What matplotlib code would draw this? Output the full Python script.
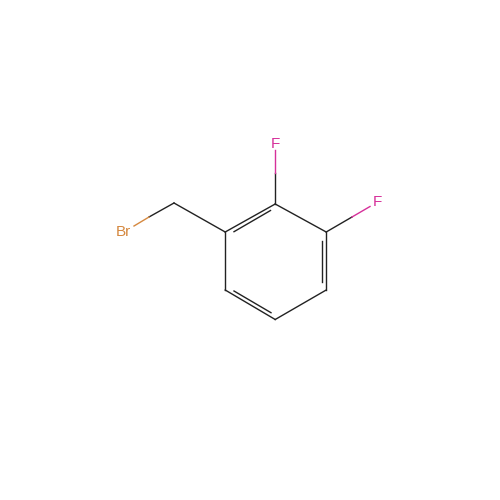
import matplotlib
matplotlib.use('Agg')
import matplotlib.pyplot as plt

# ring + CH2 atoms, pixel coords
atom_x = [275.2, 326.2, 326.2, 275.2, 225.2, 225.2, 174.0]
atom_y = [204.0, 232.0, 290.0, 319.5, 290.0, 232.0, 203.0]
bonds = [(0, 1), (1, 2), (2, 3), (3, 4), (4, 5), (5, 0), (5, 6)]

# inner lines of the double bonds
inner_x = [(234, 270.5), (322.2, 322.2), (234, 271)]
inner_y = [(231.7, 210.5), (240.7, 282), (291, 312.7)]

# hetero bonds: start atom, colour change point, end point
hetero_start = [6, 0, 1]
hetero_mid_x = [149, 275.2, 352]
hetero_mid_y = [217, 172.7, 217]
hetero_end_x = [134, 275.2, 370]
hetero_end_y = [226, 150, 206.5]

labels = ['Br', 'F', 'F']
label_x = [123, 275, 377]
label_y = [231.5, 143.5, 202.5]
label_colors = ['#d5883f', '#d6309a', '#d6309a']

BOND = '#222222'

fig = plt.figure(figsize=(5, 5), dpi=100)
ax = fig.add_axes([0, 0, 1, 1])
ax.set_xlim(0, 500)
ax.set_ylim(500, 0)
ax.axis('off')

for a, b in bonds:
    ax.plot([atom_x[a], atom_x[b]], [atom_y[a], atom_y[b]], color=BOND, lw=1.0)

for xs, ys in zip(inner_x, inner_y):
    ax.plot(xs, ys, color=BOND, lw=1.0)

for i in range(3):
    s = hetero_start[i]
    ax.plot([atom_x[s], hetero_mid_x[i]], [atom_y[s], hetero_mid_y[i]], color=BOND, lw=1.0)
    ax.plot([hetero_mid_x[i], hetero_end_x[i]], [hetero_mid_y[i], hetero_end_y[i]],
            color=label_colors[i], lw=1.0)
    ax.text(label_x[i], label_y[i], labels[i], color=label_colors[i], fontsize=11,
            family='Liberation Sans', ha='center', va='center')

plt.savefig('out.png', dpi=100)
